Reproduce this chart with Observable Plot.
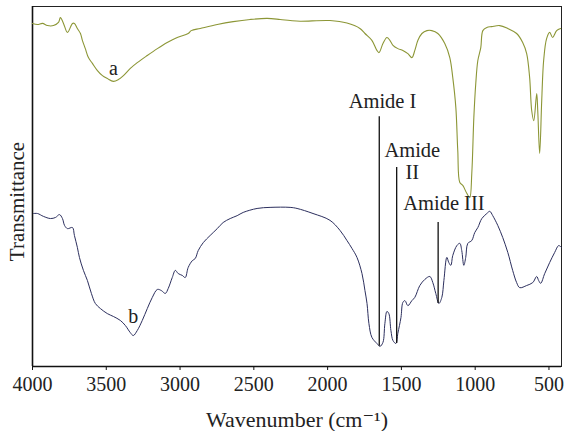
<!DOCTYPE html>
<html>
<head>
<meta charset="utf-8">
<script src="https://cdn.jsdelivr.net/npm/d3@7"></script>
<script src="https://cdn.jsdelivr.net/npm/@observablehq/plot@0.6"></script>
<style>
  html, body { margin: 0; padding: 0; background: #fff; }
  #chart svg { display: block; }
</style>
</head>
<body>
<div id="chart"></div>
<script>
// Spectrum a (top, olive) — wavenumber (cm^-1) and transmittance (arbitrary units)
const waveA = [4000, 3966, 3932, 3899, 3858, 3824, 3811, 3790, 3763, 3729, 3716, 3696, 3675, 3662, 3642, 3621, 3594, 3560, 3526, 3493, 3452, 3418, 3384, 3337, 3290, 3222, 3154, 3087, 3019, 2945, 2924, 2863, 2748, 2640, 2525, 2410, 2322, 2254, 2187, 1984, 1869, 1781, 1747, 1700, 1666, 1652, 1625, 1598, 1578, 1557, 1524, 1490, 1456, 1429, 1409, 1388, 1361, 1327, 1294, 1253, 1206, 1172, 1152, 1131, 1118, 1104, 1084, 1057, 1037, 1023, 1009, 996, 982, 962, 948, 921, 888, 834, 779, 719, 678, 651, 631, 617, 603, 583, 576, 563, 549, 536, 516, 495, 475, 448, 421];
const transA = [95.3, 95.0, 95.3, 94.7, 94.7, 95.6, 96.9, 95.3, 92.8, 95.3, 95.3, 93.9, 92.5, 90.6, 88.3, 85.8, 84.2, 82.2, 80.8, 80.0, 79.2, 79.7, 80.8, 82.8, 84.4, 86.4, 88.3, 90.0, 91.4, 92.5, 93.3, 93.9, 95.0, 95.8, 96.4, 96.7, 96.4, 96.1, 95.9, 96.1, 95.4, 93.9, 92.5, 90.6, 87.8, 87.2, 89.7, 91.4, 90.6, 89.2, 88.3, 87.8, 86.9, 85.8, 87.8, 90.6, 92.5, 93.3, 93.3, 92.5, 89.7, 85.8, 80.3, 71.9, 60.0, 51.1, 50.3, 48.1, 46.9, 53.6, 69.2, 78.6, 85.0, 88.6, 93.3, 94.2, 94.4, 94.7, 93.9, 92.5, 90.0, 86.9, 80.3, 71.1, 68.3, 75.8, 71.1, 59.2, 73.9, 85.0, 91.1, 92.8, 91.4, 93.3, 93.9];

// Spectrum b (bottom, navy)
const waveB = [3993, 3966, 3926, 3878, 3844, 3817, 3797, 3783, 3763, 3729, 3716, 3696, 3682, 3655, 3628, 3601, 3574, 3540, 3493, 3452, 3405, 3371, 3337, 3317, 3290, 3256, 3222, 3188, 3154, 3127, 3100, 3080, 3053, 3032, 3012, 2985, 2965, 2945, 2917, 2897, 2877, 2843, 2796, 2748, 2708, 2660, 2613, 2572, 2478, 2390, 2254, 2207, 2099, 1984, 1916, 1869, 1835, 1801, 1767, 1747, 1733, 1720, 1700, 1666, 1645, 1625, 1612, 1598, 1585, 1571, 1557, 1537, 1524, 1503, 1490, 1476, 1456, 1429, 1409, 1375, 1341, 1307, 1287, 1267, 1246, 1226, 1212, 1192, 1179, 1165, 1152, 1124, 1104, 1091, 1077, 1064, 1050, 1023, 1003, 982, 955, 921, 901, 881, 847, 813, 779, 746, 719, 698, 651, 610, 583, 570, 556, 529, 495, 461, 434, 416];
const transB = [42.5, 42.5, 41.7, 41.1, 41.4, 42.2, 41.1, 39.2, 38.3, 38.6, 36.4, 33.1, 30.3, 26.7, 23.9, 20.3, 17.5, 16.1, 14.7, 13.9, 12.8, 11.4, 9.4, 8.6, 10.0, 12.8, 16.1, 19.2, 21.4, 21.1, 20.3, 21.7, 24.7, 26.7, 25.8, 25.3, 24.7, 27.5, 29.4, 30.0, 32.2, 34.4, 36.4, 38.3, 40.0, 41.1, 41.9, 42.8, 43.9, 44.2, 44.2, 43.9, 42.5, 40.6, 37.8, 35.0, 32.8, 30.3, 25.8, 21.1, 17.5, 11.9, 8.1, 6.4, 5.6, 6.7, 11.9, 15.3, 14.7, 10.0, 7.2, 6.4, 9.2, 13.6, 17.8, 18.3, 16.9, 18.3, 19.2, 22.5, 24.2, 25.0, 23.3, 20.3, 17.5, 19.2, 23.9, 30.3, 28.9, 28.1, 30.8, 33.6, 34.2, 32.2, 28.1, 30.3, 34.2, 35.0, 37.2, 38.6, 41.1, 42.5, 43.1, 41.9, 39.2, 35.8, 31.7, 26.7, 23.3, 21.9, 22.5, 23.3, 25.0, 23.9, 23.1, 25.8, 28.9, 31.7, 33.6, 33.1];

// Axis ticks
const xTicks = [4000, 3500, 3000, 2500, 2000, 1500, 1000, 500];

// Amide band markers
const amideNames = ["Amide I", "Amide\nII", "Amide III"];
const amideWave = [1650, 1532, 1251];
const amideLow = [5.6, 6.4, 17.5];
const amideHigh = [69.4, 55.3, 40.0];
const amideLabelWave = [1628, 1426, 1212];
const amideLabelTrans = [73.9, 57.2, 45.6];

// Curve labels
const curveNames = ["a", "b"];
const curveLabelWave = [3452, 3317];
const curveLabelTrans = [82.8, 13.9];

const seriesA = waveA.map((w, i) => ({w, t: transA[i]}));
const seriesB = waveB.map((w, i) => ({w, t: transB[i]}));
const amides = amideNames.map((name, i) => ({name, w: amideWave[i], lo: amideLow[i], hi: amideHigh[i], lw: amideLabelWave[i], lt: amideLabelTrans[i]}));
const curveLabels = curveNames.map((name, i) => ({name, w: curveLabelWave[i], t: curveLabelTrans[i]}));

const FONT = "'Liberation Serif', 'DejaVu Serif', serif";

const chart = Plot.plot({
  width: 564,
  height: 431,
  marginTop: 6,
  marginBottom: 65,
  marginLeft: 32,
  marginRight: 3,
  style: {fontFamily: FONT, fontSize: "20px", color: "#222", background: "#fff"},
  x: {type: "linear", domain: [4000, 415]},
  y: {domain: [0, 100]},
  marks: [
    Plot.frame({stroke: "#222", strokeWidth: 1}),
    Plot.ruleX([4000], {stroke: "#111", strokeWidth: 1.6}),
    Plot.ruleY([0], {stroke: "#111", strokeWidth: 1.6}),
    Plot.axisX({ticks: xTicks, tickFormat: d => String(d), tickSize: 4, tickPadding: 6, fontSize: 20, label: null, stroke: "#111"}),
    Plot.axisY({ticks: [], label: null}),
    Plot.text(["Wavenumber (cm\u207B\u00B9)"], {frameAnchor: "bottom", dy: 60, fontSize: 22, fill: "#222"}),
    Plot.text(["Transmittance"], {frameAnchor: "left", textAnchor: "middle", rotate: -90, dx: -15, dy: 15, fontSize: 21, fill: "#222"}),
    Plot.line(seriesA, {x: "w", y: "t", stroke: "#8c9636", strokeWidth: 1.1, curve: "catmull-rom"}),
    Plot.line(seriesB, {x: "w", y: "t", stroke: "#2c2f5e", strokeWidth: 1, curve: "catmull-rom"}),
    Plot.ruleX(amides, {x: "w", y1: "lo", y2: "hi", stroke: "#111", strokeWidth: 1.3}),
    Plot.text(amides, {x: "lw", y: "lt", text: "name", fontSize: 20.5, lineHeight: 1.1, fill: "#222"}),
    Plot.text(curveLabels, {x: "w", y: "t", text: "name", fontSize: 20, fill: "#222"})
  ]
});
document.getElementById("chart").appendChild(chart);
</script>
</body>
</html>
